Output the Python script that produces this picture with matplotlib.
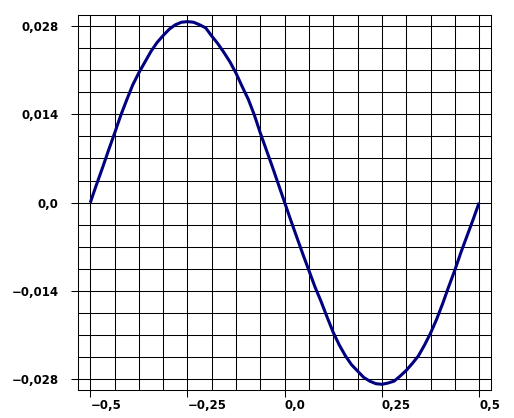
import numpy as np
import matplotlib
matplotlib.use("Agg")
import matplotlib.pyplot as plt

# values (every 1/64 along x)
x_vals = [-0.5, -0.484375, -0.46875, -0.453125, -0.4375, -0.421875, -0.40625, -0.390625,
          -0.375, -0.359375, -0.34375, -0.328125, -0.3125, -0.296875, -0.28125, -0.265625,
          -0.25, -0.234375, -0.21875, -0.203125, -0.1875, -0.171875, -0.15625, -0.140625,
          -0.125, -0.109375, -0.09375, -0.078125, -0.0625, -0.046875, -0.03125, -0.015625,
          0.0, 0.015625, 0.03125, 0.046875, 0.0625, 0.078125, 0.09375, 0.109375,
          0.125, 0.140625, 0.15625, 0.171875, 0.1875, 0.203125, 0.21875, 0.234375,
          0.25, 0.265625, 0.28125, 0.296875, 0.3125, 0.328125, 0.34375, 0.359375,
          0.375, 0.390625, 0.40625, 0.421875, 0.4375, 0.453125, 0.46875, 0.484375, 0.5]
y_vals = [0.0, 0.0028, 0.0055, 0.0083, 0.0110, 0.0138, 0.0163, 0.0187,
          0.0206, 0.0223, 0.0240, 0.0254, 0.0265, 0.0275, 0.0282, 0.0286,
          0.0287, 0.0286, 0.0282, 0.0277, 0.0264, 0.0252, 0.0238, 0.0223,
          0.0205, 0.0184, 0.0164, 0.0139, 0.0110, 0.0083, 0.0056, 0.0028,
          0.0, -0.0028, -0.0055, -0.0082, -0.0108, -0.0134, -0.0157, -0.0182,
          -0.0206, -0.0226, -0.0243, -0.0257, -0.0267, -0.0277, -0.0283, -0.0287,
          -0.0288, -0.0286, -0.0283, -0.0275, -0.0266, -0.0255, -0.0243, -0.0226,
          -0.0207, -0.0185, -0.0160, -0.0133, -0.0107, -0.0079, -0.0053, -0.0027, 0.0]

x_ticks = [-0.5, -0.25, 0.0, 0.25, 0.5]
x_labels = ["\u22120,5", "\u22120,25", "0,0", "0,25", "0,5"]
y_ticks = [-0.028, -0.014, 0.0, 0.014, 0.028]
y_labels = ["\u22120,028", "\u22120,014", "0,0", "0,014", "0,028"]

fig = plt.figure(figsize=(5.14, 4.18), dpi=100)
ax = fig.add_axes([78 / 514, (418 - 390.3) / 418, (491.3 - 78) / 514, (390.3 - 15) / 418])

ax.plot(x_vals, y_vals, color="#000080", lw=2.2, solid_capstyle="butt",
        solid_joinstyle="round", zorder=3)

ax.set_xlim(-0.5316, 0.5313)
ax.set_ylim(-0.02975, 0.02975)

# grid: major ticks carry labels, minor ticks only for grid lines
ax.set_xticks(x_ticks)
ax.set_xticklabels(x_labels)
ax.set_xticks(np.arange(-0.5, 0.5001, 0.0625), minor=True)
ax.set_yticks(y_ticks)
ax.set_yticklabels(y_labels)
ax.set_yticks(np.arange(-0.028, 0.02801, 0.0035), minor=True)
ax.grid(which="both", color="black", lw=0.75)
ax.set_axisbelow(True)

ax.tick_params(which="major", direction="out", length=5, width=0.75, color="black")
ax.tick_params(which="minor", length=0)
ax.tick_params(axis="x", pad=1.5)
ax.tick_params(axis="y", pad=9)

for tl in ax.get_xticklabels():
    tl.set_ha("left")
for tl in ax.get_xticklabels() + ax.get_yticklabels():
    tl.set_fontfamily("DejaVu Sans")
    tl.set_fontweight("bold")
    tl.set_fontsize(8.5)

for s in ax.spines.values():
    s.set_color("black")
    s.set_linewidth(0.75)

fig.savefig("out.png", dpi=100, facecolor="white")
